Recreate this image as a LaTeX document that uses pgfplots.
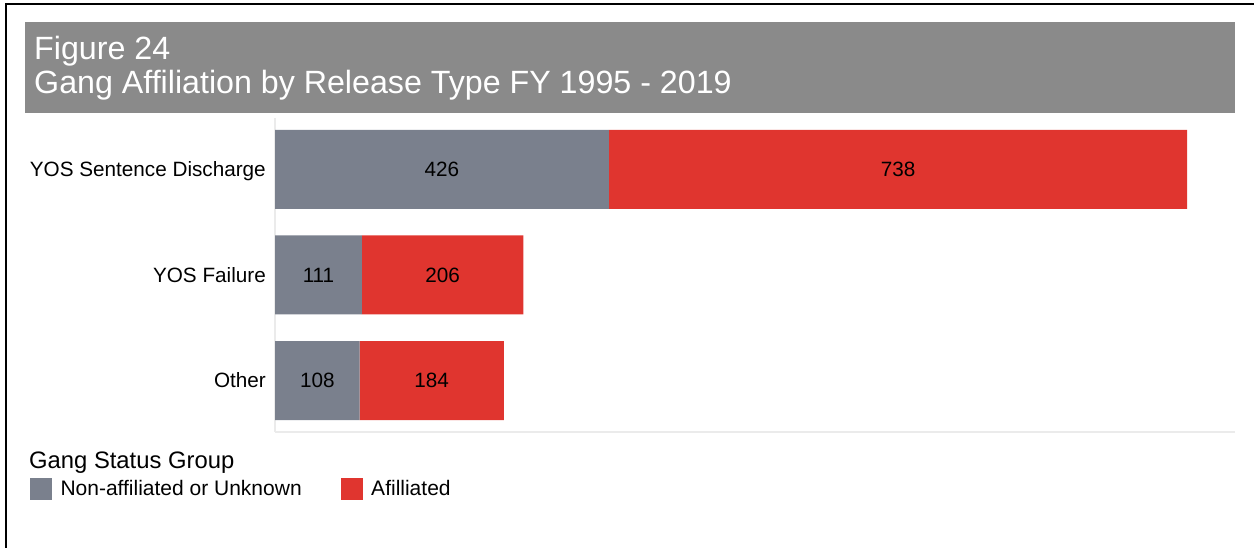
\documentclass[border=0pt]{standalone}
\usepackage{pgfplots}
\pgfplotsset{compat=1.18}
\usepackage{fontspec}
\setmainfont{Liberation Sans}
\definecolor{barGray}{HTML}{7A808D}
\definecolor{barRed}{HTML}{E0352F}
\definecolor{titleGray}{HTML}{8A8A8A}
\definecolor{axisGray}{HTML}{EBEBEB}
\newcommand{\tickfont}{\fontsize{20.7bp}{24bp}\selectfont}
\pgfplotsset{swatch/.style={legend image code/.code={\fill[##1] (0bp,-11bp) rectangle (22bp,11bp);}}}

\begin{document}
\begin{tikzpicture}[x=1bp,y=1bp]
\path[use as bounding box] (0,0) rectangle (1254,548);
% frame and title bar
\draw[line width=2.5bp] (6,0) -- (6,544) -- (1254,544);
\fill[titleGray] (25,435) rectangle (1235,526);
\node[anchor=base west, inner sep=0pt, text=white, font=\fontsize{32.2bp}{36bp}\selectfont] at (34,488) {Figure 24};
\node[anchor=base west, inner sep=0pt, text=white, font=\fontsize{32.2bp}{36bp}\selectfont] at (34,454.5) {Gang Affiliation by Release Type FY 1995 - 2019};

\begin{axis}[
  at={(275bp,116bp)}, anchor=south west,
  width=960bp, height=314bp, scale only axis,
  xbar stacked, bar width=79bp,
  xmin=0, xmax=1225, ymin=-0.488, ymax=2.488,
  axis x line*=bottom, axis y line*=left,
  axis line style={axisGray, line width=1.5bp, -},
  xtick=\empty, ytick={0,1,2},
  yticklabels={Other, YOS Failure, YOS Sentence Discharge},
  major tick length=0pt,
  yticklabel style={font=\tickfont, anchor=base east, inner sep=0pt, xshift=-9bp, yshift=-7.4bp},
  /pgf/number format/assume math mode=true,
  % stacked labels already sit in the middle of each segment
  nodes near coords={\pgfmathprintnumber{\rawx}},
  visualization depends on={rawx \as \rawx},
  every node near coord/.append style={anchor=center, font=\tickfont, text=black, inner sep=0pt},
  legend columns=2, legend cell align=left,
  legend style={at={(axis description cs:-0.2552,-0.1815)}, anchor=west,
    draw=none, fill=none, inner sep=0pt, outer sep=0pt, font=\fontsize{21bp}{24bp}\selectfont,
    nodes={inner sep=0pt}, column sep=0pt,
    /tikz/every odd column/.append style={column sep=8.5bp},
    /tikz/every even column/.append style={column sep=39bp}},
]
\addplot[fill=barGray, draw=none, swatch] coordinates {(108,0) (111,1) (426,2)};
\addlegendentry{Non-affiliated or Unknown}
\addplot[fill=barRed, draw=none, swatch] coordinates {(184,0) (206,1) (738,2)};
\addlegendentry{Afilliated}
\end{axis}

\node[anchor=base west, inner sep=0pt, font=\fontsize{23.8bp}{27bp}\selectfont] at (29,79) {Gang Status Group};
\end{tikzpicture}
\end{document}
